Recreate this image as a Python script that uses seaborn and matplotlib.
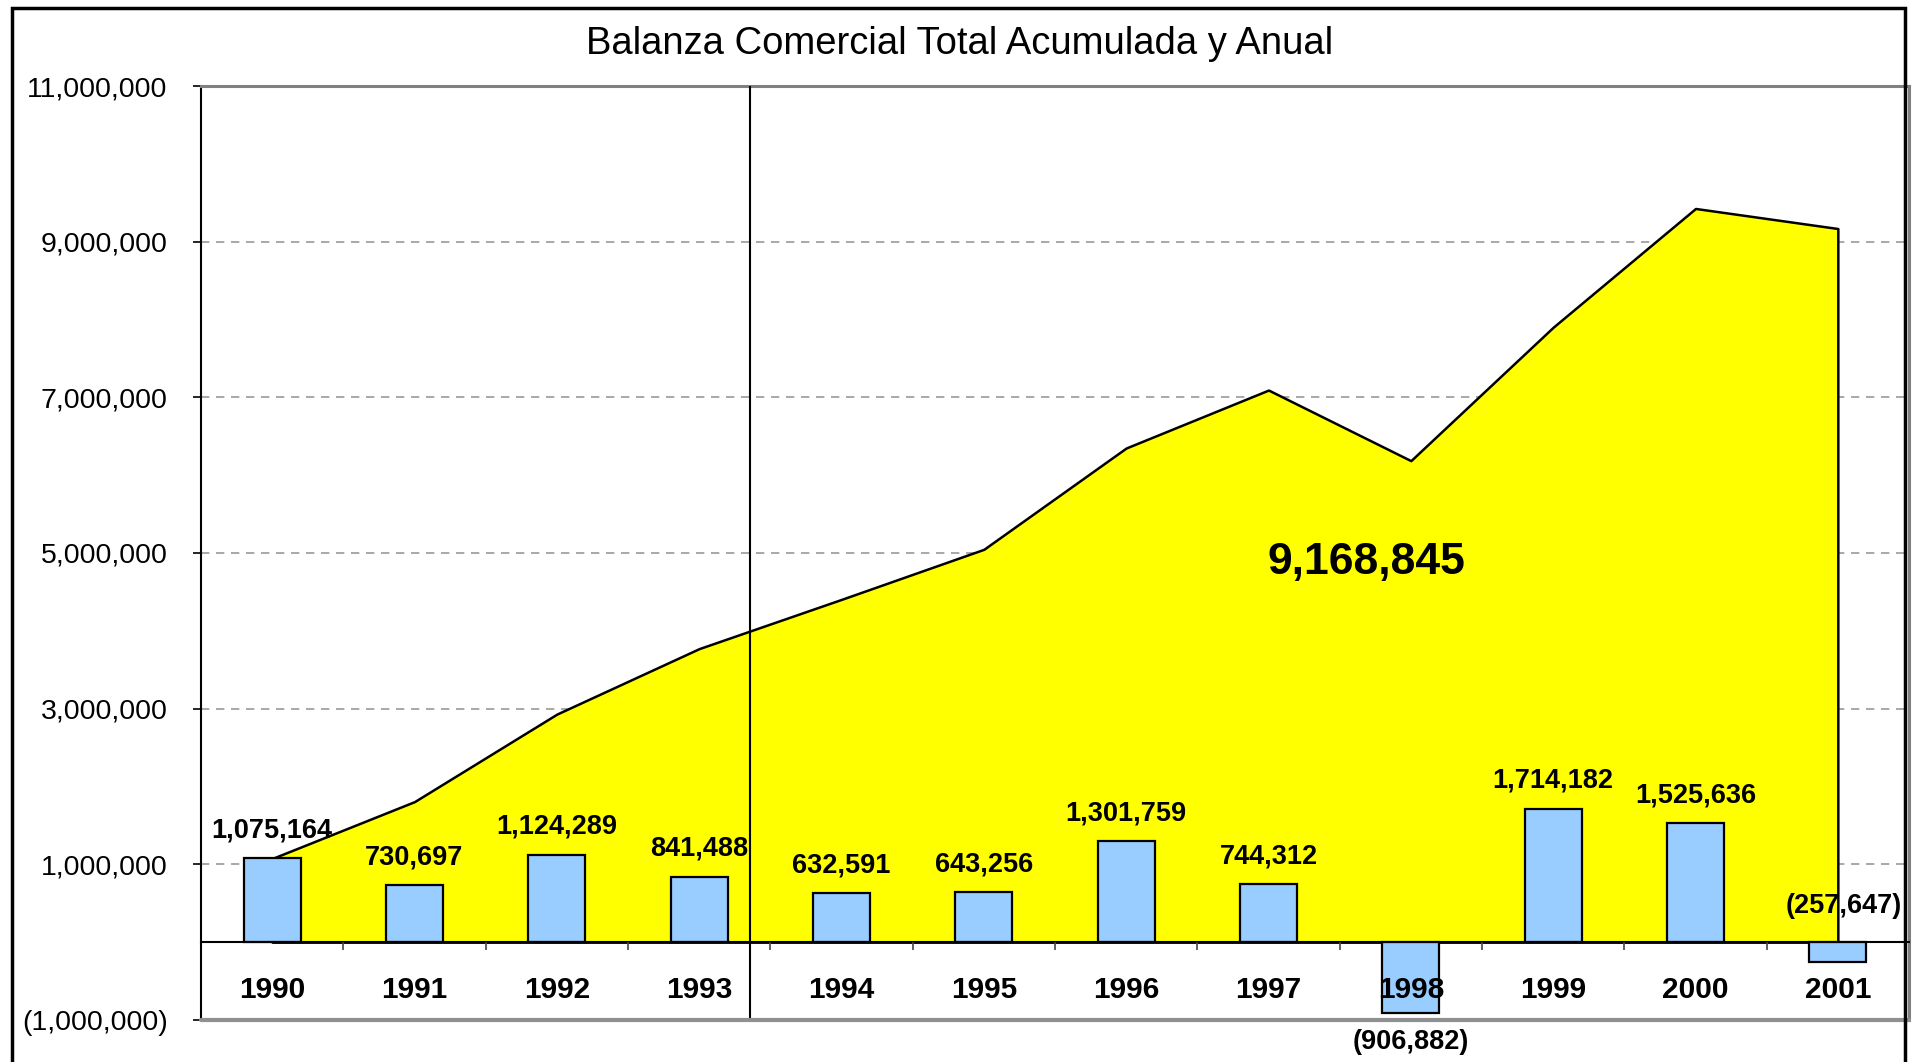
import matplotlib
matplotlib.use("Agg")
import matplotlib.pyplot as plt
from matplotlib.patches import Rectangle
from matplotlib.ticker import FuncFormatter, FixedLocator
import seaborn as sns
import pandas as pd

# ---- data ----
years = ["1990", "1991", "1992", "1993", "1994", "1995", "1996", "1997", "1998", "1999", "2000", "2001"]
annual = [1075164, 730697, 1124289, 841488, 632591, 643256, 1301759, 744312, -906882, 1714182, 1525636, -257647]
cumulative = [1075164, 1805861, 2930150, 3771638, 4404229, 5047485, 6349244, 7093556, 6186674, 7900856, 9426492, 9168845]
total_label = "9,168,845"
title = "Balanza Comercial Total Acumulada y Anual"
y_ticks = [-1000000, 1000000, 3000000, 5000000, 7000000, 9000000, 11000000]

sns.set_theme(style="white")
plt.rcParams["font.family"] = ["Liberation Sans", "DejaVu Sans"]
plt.rcParams["text.color"] = "black"
plt.rcParams["xtick.color"] = "black"
plt.rcParams["ytick.color"] = "black"
plt.rcParams["xtick.labelcolor"] = "black"
plt.rcParams["ytick.labelcolor"] = "black"

W, H = 1912, 1062
fig = plt.figure(figsize=(W / 100, H / 100), dpi=100)
ax = fig.add_axes([201 / W, 1 - 1020 / H, (1909 - 201) / W, (1020 - 86) / H])

df = pd.DataFrame({"year": years, "annual": annual, "cum": cumulative})
xpos = list(range(len(years)))

# area (cumulative)
ax.fill_between(xpos, df["cum"], 0, facecolor="#FFFF00", edgecolor="black", linewidth=1.8, zorder=2)

# bars (annual)
sns.barplot(data=df, x="year", y="annual", color="#99CCFF", edgecolor="black",
            linewidth=1.6, width=0.4, saturation=1, ax=ax, zorder=3)
for p in ax.patches:
    p.set_zorder(3)

ax.set_xlim(-0.5, len(years) - 0.5)
ax.set_ylim(-1000000, 11000000)

# separator line
ax.axvline(3.354, color="black", linewidth=1.5, zorder=4)

# grid
ax.set_yticks(y_ticks)
ax.yaxis.grid(True, linestyle=(0, (5, 4)), color="#9a9a9a", linewidth=1.2)
ax.xaxis.grid(False)
ax.set_axisbelow(True)

def fmt(v, pos):
    if v < 0:
        return "({:,.0f})".format(-v)
    return "{:,.0f}".format(v)

ax.yaxis.set_major_formatter(FuncFormatter(fmt))
ax.tick_params(axis="y", which="major", direction="out", length=6, width=1.2, color="black",
               labelcolor="black", labelsize=20.5, pad=18, left=True)

# category axis at zero
ax.spines["bottom"].set_position(("data", 0))
ax.spines["bottom"].set_color("black")
ax.spines["bottom"].set_linewidth(1.5)
ax.spines["bottom"].set_zorder(5)
ax.xaxis.set_minor_locator(FixedLocator([i + 0.5 for i in range(len(years) - 1)]))
ax.tick_params(axis="x", which="minor", direction="out", length=6, width=1.2, color="#444444", bottom=True)
ax.tick_params(axis="x", which="major", length=0, pad=24, labelsize=21.5, labelcolor="black")
for t in ax.get_xticklabels():
    t.set_fontweight("bold")
ax.xaxis.set_zorder(10)
ax.set_xlabel("")
ax.set_ylabel("")

# frame lines
ax.spines["left"].set_color("black")
ax.spines["left"].set_linewidth(1.5)
ax.spines["top"].set_color("#808080")
ax.spines["top"].set_linewidth(2.2)
ax.spines["right"].set_color("#808080")
ax.spines["right"].set_linewidth(2.2)
ax.axhline(-1000000, color="#909090", linewidth=3, zorder=5, clip_on=False)

# bar labels
for i, v in enumerate(annual):
    txt = fmt(v, None)
    if v >= 0:
        ax.annotate(txt, (i, v), xytext=(0, 15), textcoords="offset points", color="black",
                    ha="center", va="baseline", fontsize=19.5, fontweight="bold", zorder=6)
    elif i == len(annual) - 1:
        ax.annotate(txt, (i, 0), xytext=(4, 21), textcoords="offset points", color="black",
                    ha="center", va="baseline", fontsize=19.5, fontweight="bold", zorder=6)
    else:
        ax.annotate(txt, (i, v), xytext=(0, -12), textcoords="offset points", color="black",
                    ha="center", va="top", fontsize=19.5, fontweight="bold", zorder=6)

# total label
ax.text(7.69, 4880000, total_label, ha="center", va="center", fontsize=32, fontweight="bold",
        color="black", zorder=6)

# title
fig.text(787 / 1568, 1 - 44 / H, title, ha="center", va="center", fontsize=27.5, color="black")

# outer frame
fig.add_artist(Rectangle((12 / W, -0.2), (1905 - 12) / W, 1.2 - 8 / H, transform=fig.transFigure,
                         fill=False, edgecolor="black", linewidth=2.5))

fig.savefig("out.png", dpi=100)
